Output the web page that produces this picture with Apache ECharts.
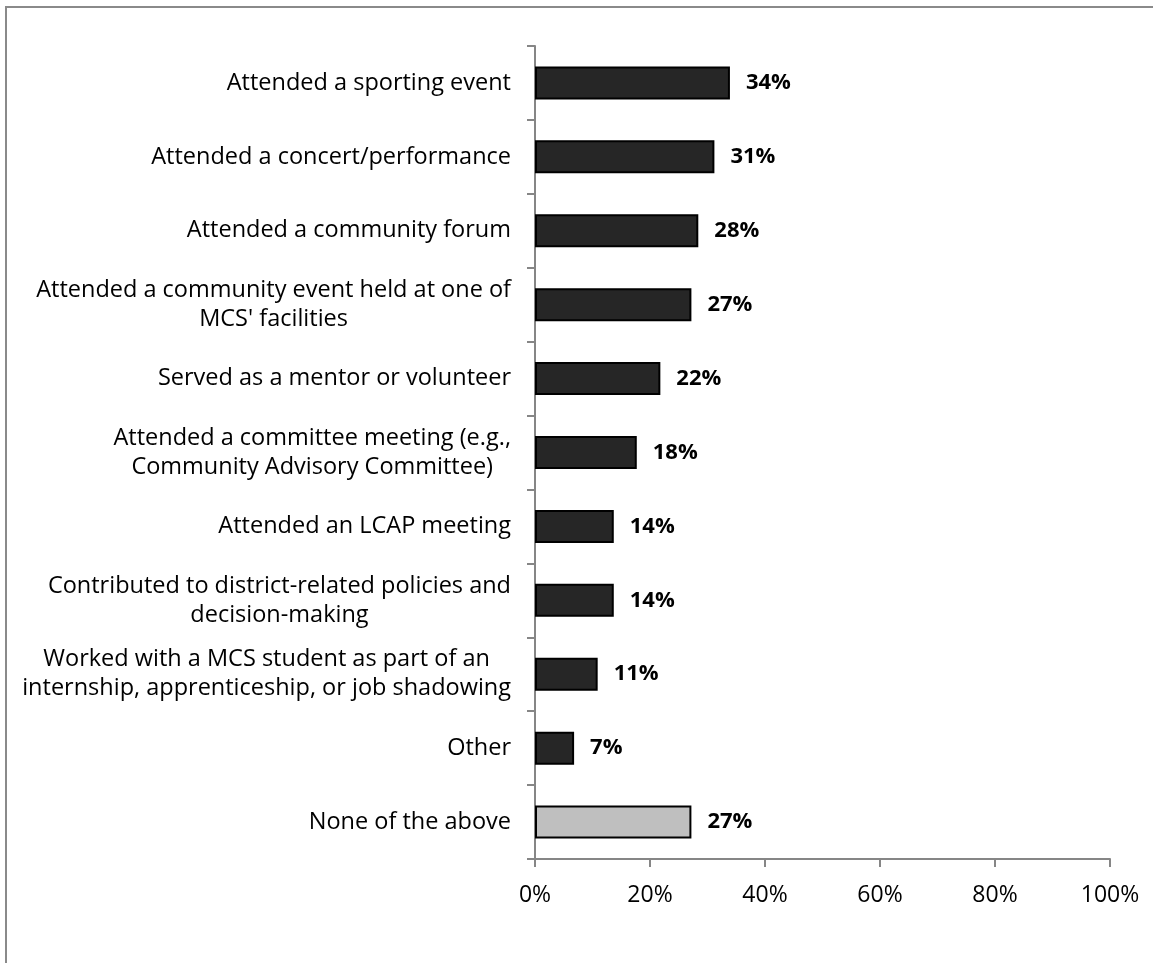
<!DOCTYPE html>
<html>
<head>
<meta charset="utf-8">
<script src="https://cdn.jsdelivr.net/npm/echarts@6/dist/echarts.min.js"></script>
<style>
html,body{margin:0;padding:0;background:#fff;}
#chart{position:absolute;left:0;top:0;width:1153px;height:963px;}
#frame{position:absolute;left:5px;top:6px;width:1148px;height:957px;border-left:2px solid #8a8a8a;border-top:2px solid #8a8a8a;pointer-events:none;}
</style>
</head>
<body>
<div id="chart"></div>
<div id="frame"></div>
<script>
const categories = [
  "Attended a sporting event",
  "Attended a concert/performance",
  "Attended a community forum",
  "Attended a community event held at one of\nMCS' facilities",
  "Served as a mentor or volunteer",
  "Attended a committee meeting (e.g.,\nCommunity Advisory Committee)",
  "Attended an LCAP meeting",
  "Contributed to district-related policies and\ndecision-making",
  "Worked with a MCS student as part of an\ninternship, apprenticeship, or job shadowing",
  "Other",
  "None of the above"
];
const values = [33.9, 31.2, 28.4, 27.2, 21.8, 17.7, 13.7, 13.7, 10.9, 6.8, 27.2];
const highlightIndex = 10;
const xTicks = [0, 20, 40, 60, 80, 100];

const FONT = '"Open Sans", Lato, sans-serif';
const LABEL_SIZE = 23.5;

const chart = echarts.init(document.getElementById('chart'), null, {renderer: 'canvas'});
chart.setOption({
  backgroundColor: '#ffffff',
  animation: false,
  grid: {left: 535, right: 43, top: 46, bottom: 104, containLabel: false},
  xAxis: {
    type: 'value',
    min: xTicks[0],
    max: xTicks[xTicks.length - 1],
    interval: xTicks[1] - xTicks[0],
    axisLine: {show: true, lineStyle: {color: '#868686', width: 2}},
    axisTick: {show: true, length: 8, lineStyle: {color: '#868686', width: 2}},
    splitLine: {show: false},
    axisLabel: {
      formatter: '{value}%',
      color: '#000',
      fontFamily: FONT,
      fontSize: 23,
      margin: 25
    }
  },
  yAxis: {
    type: 'category',
    data: categories,
    inverse: true,
    axisLine: {show: true, lineStyle: {color: '#868686', width: 2}},
    axisTick: {show: true, length: 8, alignWithLabel: false, lineStyle: {color: '#868686', width: 2}},
    splitLine: {show: false},
    axisLabel: {
      interval: 0,
      margin: 24,
      color: '#000',
      fontFamily: FONT,
      fontSize: LABEL_SIZE,
      lineHeight: 29,
      formatter: function (v) {
        return v.split('\n').map(function (l) { return '{c|' + l + '}'; }).join('\n');
      },
      rich: {
        c: {align: 'center', color: '#000', fontFamily: FONT, fontSize: LABEL_SIZE, lineHeight: 29}
      }
    }
  },
  series: [{
    type: 'bar',
    barWidth: 33,
    data: values.map(function (v, i) {
      return {
        value: v,
        itemStyle: {
          color: i === highlightIndex ? '#bfbfbf' : '#262626',
          borderColor: '#000',
          borderWidth: 2
        }
      };
    }),
    label: {
      show: true,
      position: 'right',
      distance: 16,
      formatter: function (p) { return Math.round(p.value) + '%'; },
      color: '#000',
      fontFamily: FONT,
      fontWeight: 'bold',
      fontSize: 22
    }
  }]
});
</script>
</body>
</html>
